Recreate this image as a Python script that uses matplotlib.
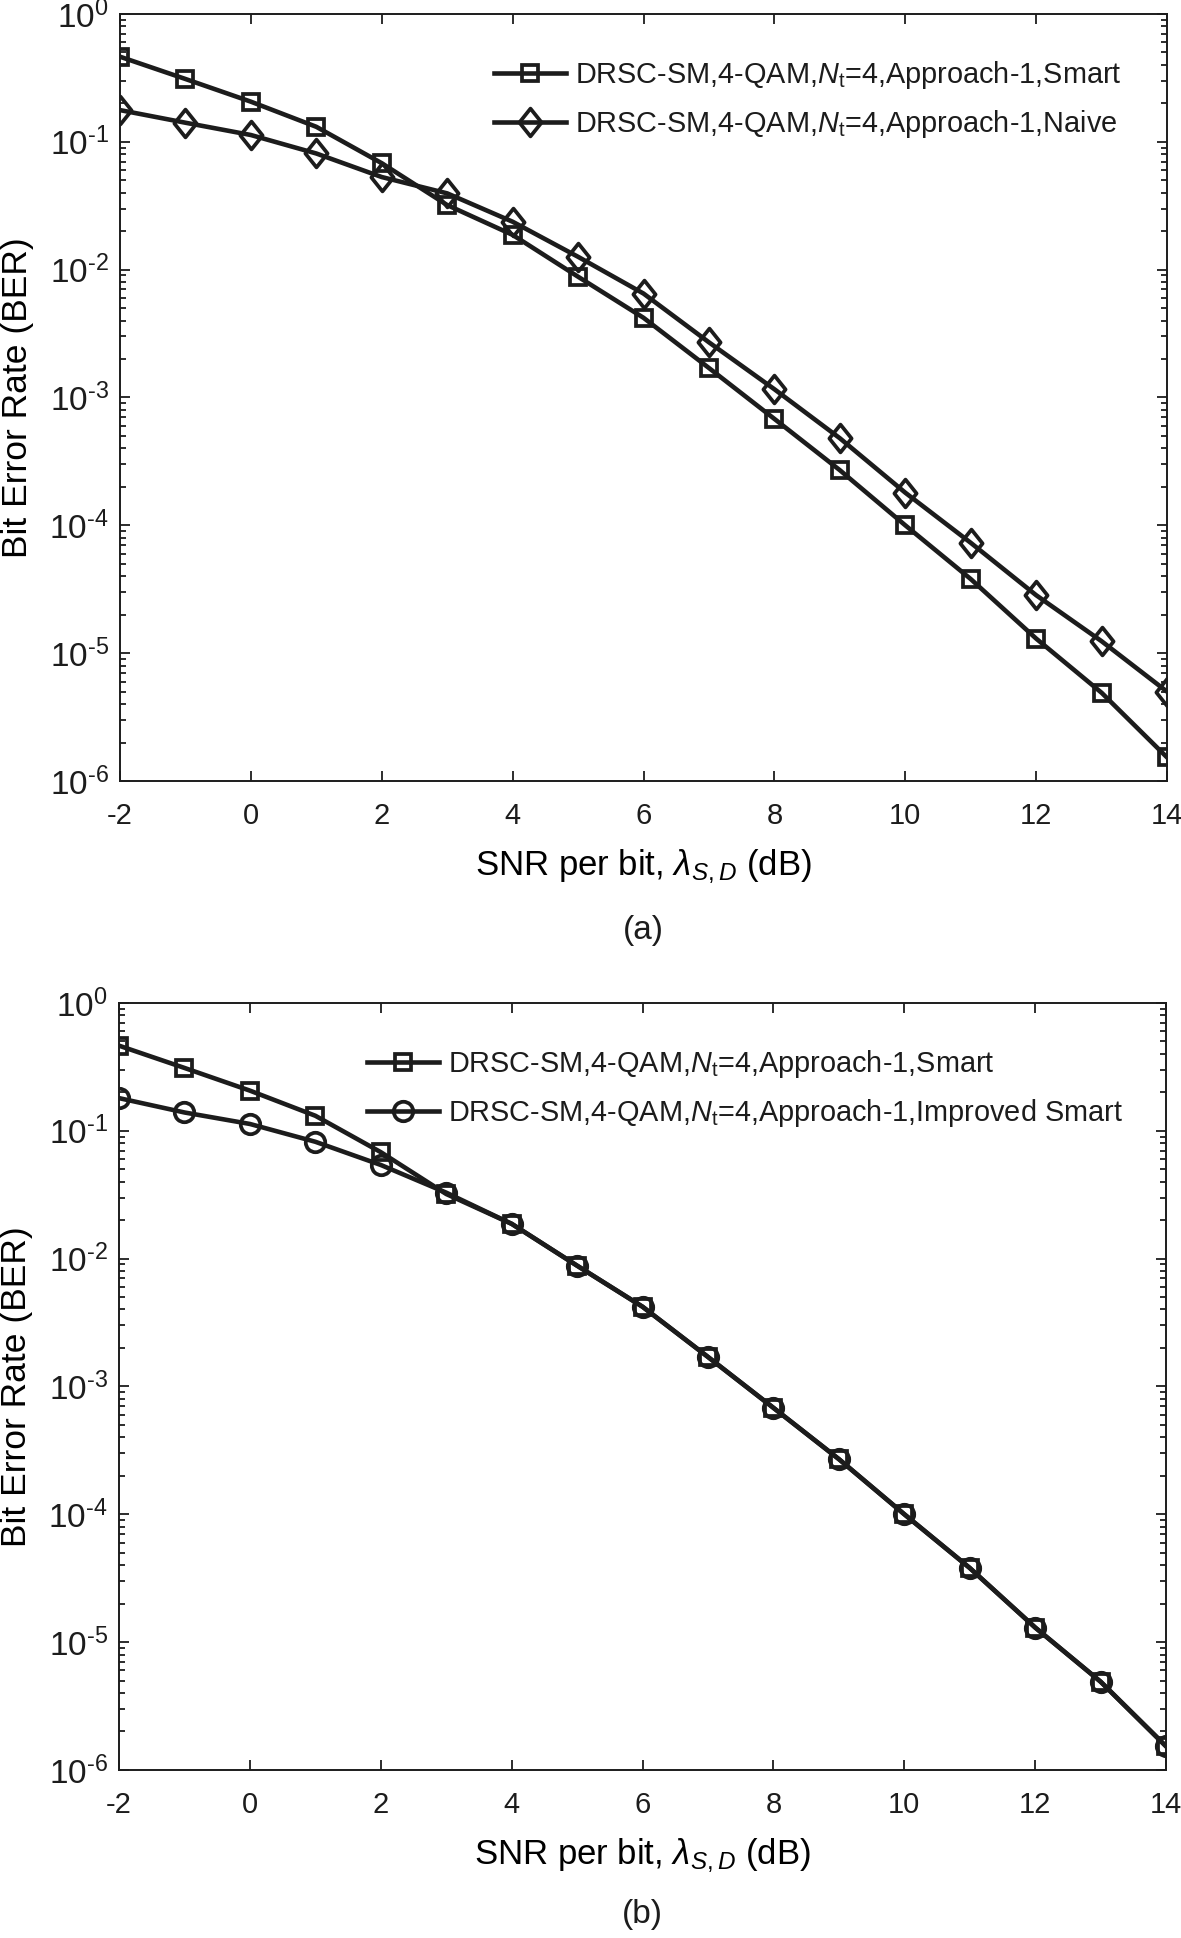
import numpy as np
import matplotlib
matplotlib.use("Agg")
import matplotlib.pyplot as plt
from matplotlib.path import Path as MPath
from matplotlib.ticker import LogLocator, FuncFormatter, NullFormatter

# SNR per bit (dB)
snr_db = [-2, -1, 0, 1, 2, 3, 4, 5, 6, 7, 8, 9, 10, 11, 12, 13, 14]

# BER curves
ber_smart = [0.463, 0.31, 0.206, 0.131, 0.068, 0.032, 0.0187, 0.0088, 0.0042,
             0.0017, 6.8e-4, 2.7e-4, 1.0e-4, 3.8e-5, 1.3e-5, 4.9e-6, 1.53e-6]
ber_naive = [0.177, 0.141, 0.113, 0.081, 0.053, 0.0395, 0.0237, 0.0126, 0.0065,
             0.0027, 1.16e-3, 4.8e-4, 1.8e-4, 7.3e-5, 2.84e-5, 1.24e-5, 5.0e-6]
ber_improved = [0.18, 0.139, 0.113, 0.082, 0.054, 0.0328, 0.0187, 0.0088, 0.0042,
                0.0017, 6.8e-4, 2.7e-4, 1.0e-4, 3.8e-5, 1.3e-5, 4.9e-6, 1.53e-6]

xticks = [-2, 0, 2, 4, 6, 8, 10, 12, 14]

lbl_smart = r"DRSC-SM,4-QAM,$\mathit{N}_{\mathrm{t}}$=4,Approach-1,Smart"
lbl_naive = r"DRSC-SM,4-QAM,$\mathit{N}_{\mathrm{t}}$=4,Approach-1,Naive"
lbl_improved = r"DRSC-SM,4-QAM,$\mathit{N}_{\mathrm{t}}$=4,Approach-1,Improved Smart"

INK = "#1c1c1c"

plt.rcParams["font.family"] = ["Liberation Sans", "DejaVu Sans"]
plt.rcParams["mathtext.fontset"] = "custom"
plt.rcParams["mathtext.rm"] = "Liberation Sans"
plt.rcParams["mathtext.it"] = "Liberation Sans:italic"
plt.rcParams["mathtext.bf"] = "Liberation Sans:bold"
plt.rcParams["text.color"] = INK
plt.rcParams["axes.edgecolor"] = INK
plt.rcParams["xtick.color"] = INK
plt.rcParams["ytick.color"] = INK

# MATLAB-like diamond, a bit taller than wide
diamond = MPath([(0, 1), (0.8, 0), (0, -1), (-0.8, 0), (0, 1)],
                [MPath.MOVETO, MPath.LINETO, MPath.LINETO, MPath.LINETO, MPath.CLOSEPOLY])

line_kw = dict(color=INK, lw=3.3, markerfacecolor="none", markeredgecolor=INK, mew=2.7)


def pow10_label(v, _):
    e = int(round(np.log10(v)))
    # hyphen rather than a minus sign, like the original
    return r"$10^{\text{%d}}$" % e


def style_axes(ax):
    ax.set_yscale("log")
    ax.set_xlim(-2, 14)
    ax.set_ylim(1e-6, 1)
    ax.set_xticks(xticks)
    ax.set_xticklabels([str(t) for t in xticks])
    ax.yaxis.set_major_locator(LogLocator(base=10, numticks=10))
    ax.yaxis.set_major_formatter(FuncFormatter(pow10_label))
    ax.yaxis.set_minor_locator(LogLocator(base=10, subs=np.arange(2, 10), numticks=20))
    ax.yaxis.set_minor_formatter(NullFormatter())
    ax.tick_params(which="both", direction="in", top=True, right=True, width=1.3)
    ax.tick_params(which="major", length=7)
    ax.tick_params(which="minor", length=4)
    ax.tick_params(axis="x", labelsize=21, pad=15)
    ax.tick_params(axis="y", labelsize=24, pad=8)
    for s in ax.spines.values():
        s.set_linewidth(1.4)
    ax.set_xlabel(r"SNR per bit, $\lambda_{S,D}$ (dB)", fontsize=25)
    ax.xaxis.set_label_coords(0.5, -0.087)
    ax.set_ylabel("Bit Error Rate (BER)", fontsize=25.5)
    ax.yaxis.set_label_coords(-0.082, 0.5)


fig = plt.figure(figsize=(11.81, 19.38), dpi=100)

ax1 = fig.add_axes([0.1016, 0.597, 0.8866, 0.3958])
ax1.plot(snr_db, ber_smart, marker="s", ms=12, label=lbl_smart, **line_kw)
ax1.plot(snr_db, ber_naive, marker=diamond, ms=20, label=lbl_naive, **line_kw)
style_axes(ax1)
ax1.legend(loc="upper left", bbox_to_anchor=(0.357, 0.941), frameon=False,
           fontsize=20.8, handlelength=2.5, handletextpad=0.3, borderpad=0,
           borderaxespad=0, labelspacing=0.58)
fig.text(0.5 * (0.1016 + 0.9882), 1 - 930 / 1938, "(a)", fontsize=24,
         ha="center", va="center")

ax2 = fig.add_axes([0.1008, 0.0867, 0.8866, 0.3958])
ax2.plot(snr_db, ber_smart, marker="s", ms=12, label=lbl_smart, **line_kw)
ax2.plot(snr_db, ber_improved, marker="o", ms=14, label=lbl_improved, **line_kw)
style_axes(ax2)
ax2.legend(loc="upper left", bbox_to_anchor=(0.237, 0.941), frameon=False,
           fontsize=20.8, handlelength=2.5, handletextpad=0.3, borderpad=0,
           borderaxespad=0, labelspacing=0.58)
fig.text(0.5 * (0.1008 + 0.9874), 1 - 1915 / 1938, "(b)", fontsize=24,
         ha="center", va="center")

fig.savefig("out.png", dpi=100)
